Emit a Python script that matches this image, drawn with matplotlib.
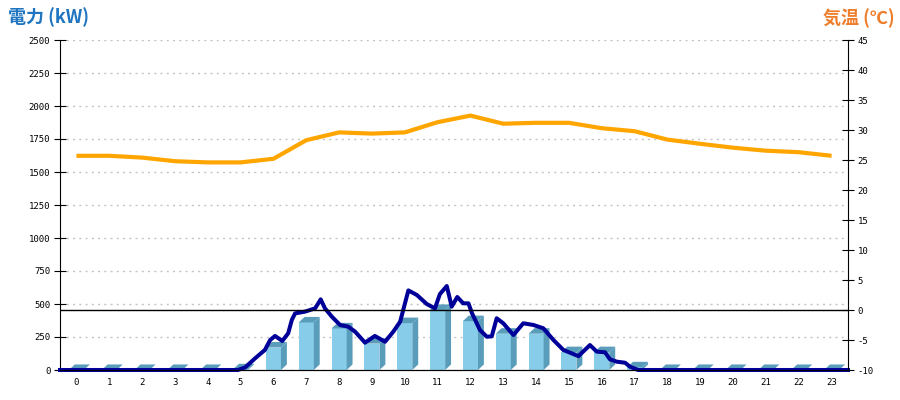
import matplotlib
matplotlib.use('Agg')
import matplotlib.pyplot as plt
from matplotlib.collections import PolyCollection

plt.rcParams['font.family'] = ['DejaVu Sans Mono', 'Noto Sans CJK JP']
plt.rcParams['axes.unicode_minus'] = False

# hourly data
hours = list(range(24))
power_hourly = [0, 0, 0, 0, 0, 5, 170, 360, 315, 200, 355, 455,
                370, 275, 275, 135, 135, 20, 0, 0, 0, 0, 0, 0]
temp = [25.7, 25.7, 25.4, 24.8, 24.6, 24.6, 25.2, 28.3, 29.6, 29.4, 29.6, 31.3,
        32.4, 31.05, 31.2, 31.2, 30.3, 29.8, 28.4, 27.7, 27.05, 26.55, 26.3, 25.7]

# fine power trace (time in hours, kW)
trace_t = [0.0, 5.42, 5.64, 5.94, 6.24, 6.40, 6.55, 6.77, 6.95, 7.06, 7.16, 7.46,
           7.77, 7.94, 8.07, 8.28, 8.53, 8.78, 8.99, 9.29, 9.59, 9.90, 10.15, 10.36,
           10.61, 10.87, 11.17, 11.42, 11.57, 11.78, 11.93, 12.10, 12.28, 12.44,
           12.55, 12.79, 13.00, 13.15, 13.30, 13.50, 13.81, 14.11, 14.42, 14.72,
           15.03, 15.33, 15.79, 16.14, 16.35, 16.60, 16.75, 16.96, 17.21, 17.36,
           17.61, 24.0]
trace_kw = [0, 0, 20, 88, 152, 227, 258, 220, 278, 379, 429, 442,
            467, 535, 467, 404, 341, 328, 290, 207, 258, 214, 290, 366,
            603, 568, 500, 467, 575, 636, 480, 553, 505, 505,
            429, 303, 252, 255, 392, 354, 265, 354, 341, 316,
            227, 152, 105, 189, 139, 134, 81, 63, 55, 25,
            0, 0]

front_col = '#87cdea'
side_col = '#5a9dbb'
line_col = '#000099'
temp_col = '#ffa500'

fig = plt.figure(figsize=(9, 4), dpi=100)
ax = fig.add_axes([60/900, 30/400, 788/900, 330/400])
ax2 = ax.twinx()

bw = 0.46
dx, dy = 0.18, 42

ax.bar(hours, power_hourly, width=bw, color=front_col, zorder=2)
sides, tops = [], []
for x, h in zip(hours, power_hourly):
    l, r = x - bw/2, x + bw/2
    sides.append([(r, 0), (r + dx, dy), (r + dx, h + dy), (r, h)])
    tops.append([(l, h), (r, h), (r + dx, h + dy), (l + dx, h + dy)])
ax.add_collection(PolyCollection(sides, facecolors=side_col, edgecolors='none', zorder=2))
ax.add_collection(PolyCollection(tops, facecolors=side_col, edgecolors='none', zorder=2))

ax.plot([t - 0.5 for t in trace_t], trace_kw, color=line_col, lw=2.9,
        zorder=4, clip_on=False, solid_joinstyle='round')

ax.set_xlim(-0.5, 23.5)
ax.set_ylim(0, 2500)
ax.set_yticks(range(0, 2501, 250))
ax.set_xticks(hours)
ax.grid(axis='y', color='#c4c4c4', linestyle=(0, (1.5, 3)), lw=1)
ax.set_axisbelow(True)

ax2.set_ylim(-10, 45)
ax2.set_yticks(range(-10, 46, 5))
ax2.axhline(0, color='black', lw=1, zorder=1)
ax2.plot(hours, temp, color=temp_col, lw=3, zorder=3, solid_capstyle='butt')

for a in (ax, ax2):
    a.spines['top'].set_visible(False)
    a.tick_params(labelsize=6.5, colors='black')
ax.spines['right'].set_visible(False)
ax2.spines['left'].set_visible(False)
ax.tick_params(axis='y', direction='inout', length=8, pad=3)
ax2.tick_params(axis='y', direction='inout', length=8, pad=3)
ax.tick_params(axis='x', length=0, pad=6)

fig.text(0.009, 0.957, '電力 (kW)', color='#1f75c0', fontsize=13,
         fontweight='bold', family=['Noto Sans CJK JP'], va='center', ha='left')
fig.text(0.994, 0.954, '気温 (℃)', color='#ee7d2c', fontsize=13,
         fontweight='bold', family=['Noto Sans CJK JP'], va='center', ha='right')

fig.savefig('out.png', dpi=100)
